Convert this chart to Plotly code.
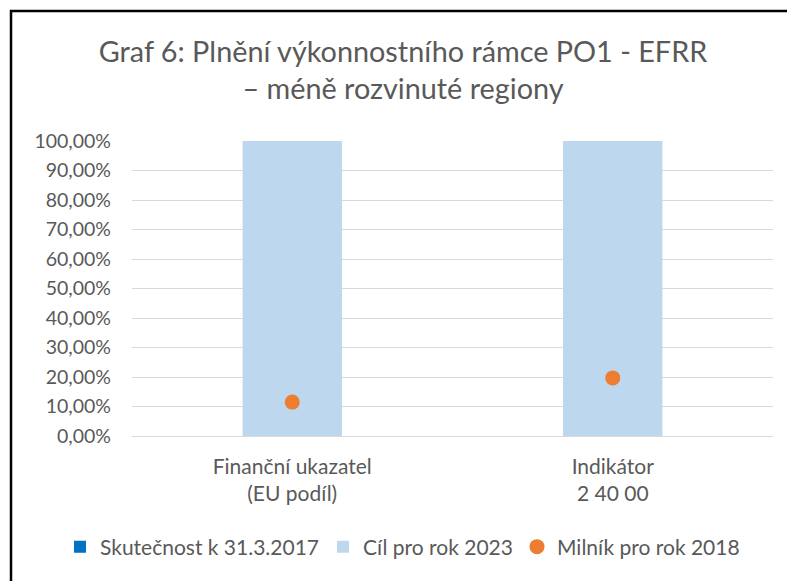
import plotly.graph_objects as go

categories = ["Finanční ukazatel<br>(EU podíl)", "Indikátor<br>2 40 00"]
skutecnost = [0.0, 0.0]
cil_2023 = [1.0, 1.0]
milnik_2018 = [0.115, 0.197]

series_names = ["Skutečnost k 31.3.2017", "Cíl pro rok 2023", "Milník pro rok 2018"]
title_text = "Graf 6: Plnění výkonnostního rámce PO1 - EFRR<br>– méně rozvinuté regiony"

FONT = "Lato, Carlito, Calibri, sans-serif"
GRAY = "#595959"

# plot area in screen pixels (page has an 8px body margin)
PL, PR, PT, PB = 132, 773, 141, 436
OFF = 8
PW, PH = PR - PL, PB - PT


def px_x(p):
    return (p - PL) / PW


def px_y(p):
    return (PB - p) / PH


fig = go.Figure()
fig.add_trace(go.Bar(x=categories, y=skutecnost, name=series_names[0], legend="legend",
                     marker=dict(color="#0070C0", line=dict(width=0)), width=0.31))
fig.add_trace(go.Bar(x=categories, y=cil_2023, name=series_names[1], legend="legend2",
                     marker=dict(color="#BDD7EE", line=dict(width=0)), width=0.31))
fig.add_trace(go.Scatter(x=categories, y=milnik_2018, name=series_names[2], mode="markers",
                         legend="legend3",
                         marker=dict(color="#ED7D31", size=15, symbol="circle")))

leg_common = dict(orientation="h", yanchor="middle", y=px_y(547), xanchor="left",
                  font=dict(family=FONT, size=21, color=GRAY), itemwidth=30,
                  bgcolor="rgba(0,0,0,0)")

fig.update_layout(
    width=795, height=581,
    margin=dict(l=PL - OFF, r=795 - (PR - OFF), t=PT - OFF, b=581 - (PB - OFF)),
    paper_bgcolor="white", plot_bgcolor="white",
    barmode="overlay",
    separators=", ",
    font=dict(family=FONT, color=GRAY, size=19),
    title=dict(text=title_text, x=(403 - OFF) / 795, xanchor="center",
               y=1 - (62 - OFF) / 581, yanchor="top",
               font=dict(family=FONT, size=28.8, color=GRAY)),
    showlegend=True,
    legend=dict(leg_common, x=px_x(75 - 15)),
    legend2=dict(leg_common, x=px_x(338 - 15)),
    legend3=dict(leg_common, x=px_x(532 - 15)),
    xaxis=dict(showgrid=False, showline=False, ticks="", zeroline=False,
               ticklabelstandoff=16,
               tickfont=dict(family=FONT, size=21, color=GRAY)),
    yaxis=dict(range=[0, 1.0], tickvals=[i / 10 for i in range(11)], tickformat=".2%",
               showgrid=True, gridcolor="#D9D9D9", gridwidth=1, zeroline=True,
               zerolinecolor="#D9D9D9", zerolinewidth=1, showline=False,
               ticklabelstandoff=20, tickfont=dict(family=FONT, size=19.5, color=GRAY)),
    shapes=[dict(type="rect", xref="paper", yref="paper",
                 x0=px_x(11), x1=px_x(820),
                 y0=px_y(620), y1=px_y(11),
                 line=dict(color="black", width=2.5), fillcolor="rgba(0,0,0,0)", layer="below")],
)

fig.write_html("out.html")
